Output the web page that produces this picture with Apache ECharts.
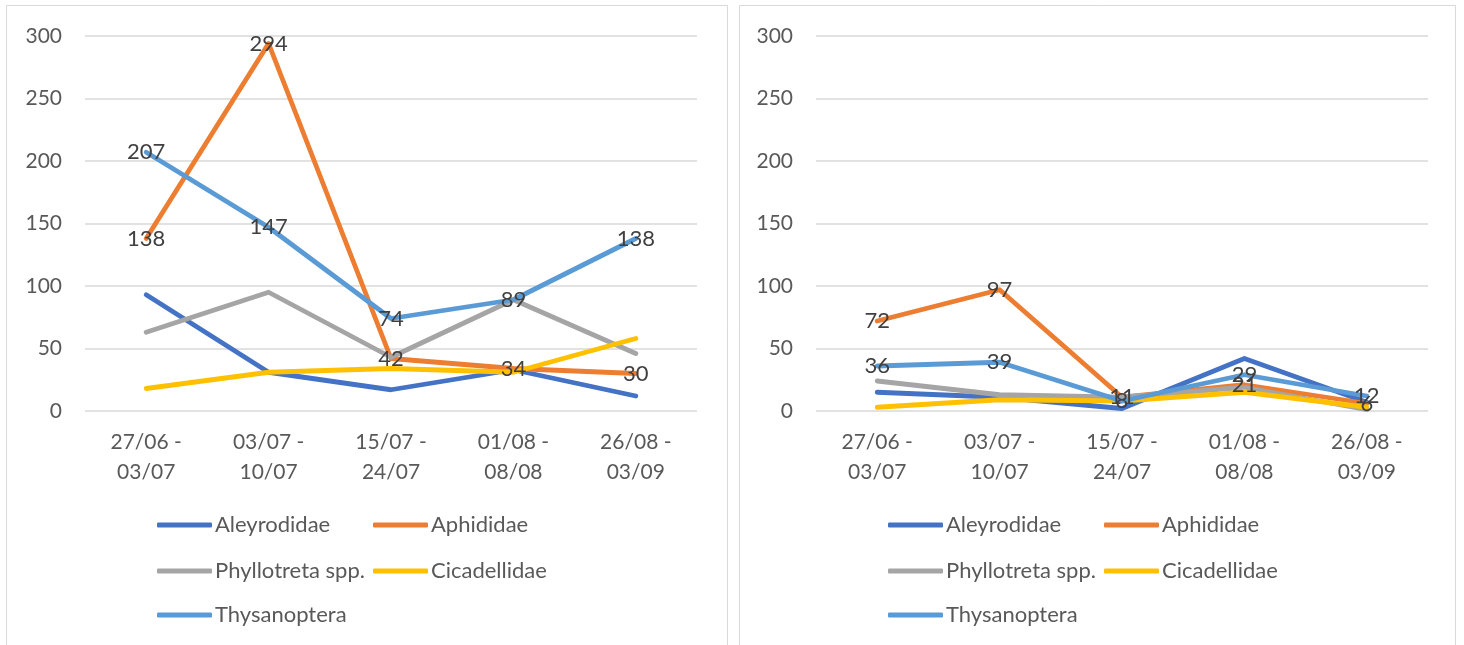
<!DOCTYPE html>
<html>
<head>
<meta charset="utf-8">
<script src="https://cdn.jsdelivr.net/npm/echarts@6/dist/echarts.min.js"></script>
<style>
  html, body { margin: 0; padding: 0; background: #fff; }
  #chart { width: 1464px; height: 645px; }
</style>
</head>
<body>
<div id="chart"></div>
<script>
// Sampling periods (x axis)
const periods = ['27/06 -\n03/07', '03/07 -\n10/07', '15/07 -\n24/07', '01/08 -\n08/08', '26/08 -\n03/09'];
const seriesNames = ['Aleyrodidae', 'Aphididae', 'Phyllotreta spp.', 'Cicadellidae', 'Thysanoptera'];
const seriesColors = ['#4472C4', '#ED7D31', '#A5A5A5', '#FFC000', '#5B9BD5'];
// Series that carry value labels
const labelled = ['Aphididae', 'Thysanoptera'];

// Left panel counts
const leftAleyrodidae = [93, 31, 17, 33, 12];
const leftAphididae = [138, 294, 42, 34, 30];
const leftPhyllotreta = [63, 95, 43, 89, 46];
const leftCicadellidae = [18, 31, 34, 31, 58];
const leftThysanoptera = [207, 147, 74, 89, 138];

// Right panel counts
const rightAleyrodidae = [15, 11, 2, 42, 7];
const rightAphididae = [72, 97, 11, 21, 6];
const rightPhyllotreta = [24, 13, 11, 19, 1];
const rightCicadellidae = [3, 9, 8, 15, 3];
const rightThysanoptera = [36, 39, 8, 29, 12];

// Y axis scale
const yMin = 0, yMax = 300, yStep = 50;

const FONT = 'Lato';
const AXIS_TEXT = '#595959';

const leftData = [leftAleyrodidae, leftAphididae, leftPhyllotreta, leftCicadellidae, leftThysanoptera];
const rightData = [rightAleyrodidae, rightAphididae, rightPhyllotreta, rightCicadellidae, rightThysanoptera];

function makeGrid(left) {
  return { left: left, width: 612, top: 36, height: 375, containLabel: false };
}
function makeX(idx) {
  return {
    type: 'category', gridIndex: idx, data: periods, boundaryGap: true,
    axisLine: { show: false }, axisTick: { show: false },
    axisLabel: { color: AXIS_TEXT, fontFamily: FONT, fontSize: 21, lineHeight: 30, margin: 16, interval: 0 }
  };
}
function makeY(idx) {
  return {
    type: 'value', gridIndex: idx, min: yMin, max: yMax, interval: yStep,
    axisLine: { show: false }, axisTick: { show: false },
    axisLabel: { color: AXIS_TEXT, fontFamily: FONT, fontSize: 21, margin: 23 },
    splitLine: { lineStyle: { color: '#D9D9D9', width: 1.5 } }
  };
}
function makeSeries(dataSets, idx) {
  return seriesNames.map((name, i) => ({
    name: name, type: 'line', xAxisIndex: idx, yAxisIndex: idx,
    data: dataSets[i], showSymbol: true, symbol: 'circle', symbolSize: 0,
    lineStyle: { color: seriesColors[i], width: 4.8, cap: 'round', join: 'round' },
    itemStyle: { color: seriesColors[i] },
    z: 2,
    label: {
      show: labelled.includes(name), position: 'inside',
      color: '#404040', fontFamily: FONT, fontSize: 22
    },
    labelLayout: { hideOverlap: false },
    emphasis: { disabled: true },
    animation: false
  }));
}
// One legend block per item so the entries sit on a fixed two-column layout
function makeLegends(offsetX) {
  const slots = [
    [157, 514], [373, 514],
    [157, 560], [373, 560],
    [157, 604]
  ];
  return seriesNames.map((name, i) => ({
    data: [{ name: name, icon: 'roundRect', itemStyle: { color: seriesColors[i] } }],
    left: slots[i][0] + offsetX, top: slots[i][1],
    itemWidth: 55, itemHeight: 5, padding: 0,
    selectedMode: false,
    textStyle: { color: AXIS_TEXT, fontFamily: FONT, fontSize: 22, padding: [0, 0, 0, -2] }
  }));
}

const chart = echarts.init(document.getElementById('chart'), null, { renderer: 'canvas' });
chart.setOption({
  animation: false,
  backgroundColor: '#ffffff',
  graphic: [
    { type: 'rect', shape: { x: 6.5, y: 5.5, width: 721, height: 660 }, style: { fill: 'none', stroke: '#D9D9D9', lineWidth: 1 }, silent: true },
    { type: 'rect', shape: { x: 739.5, y: 5.5, width: 716, height: 660 }, style: { fill: 'none', stroke: '#D9D9D9', lineWidth: 1 }, silent: true }
  ],
  grid: [makeGrid(85), makeGrid(816)],
  xAxis: [makeX(0), makeX(1)],
  yAxis: [makeY(0), makeY(1)],
  legend: makeLegends(0).concat(makeLegends(731)),
  series: makeSeries(leftData, 0).concat(makeSeries(rightData, 1))
});
</script>
</body>
</html>
